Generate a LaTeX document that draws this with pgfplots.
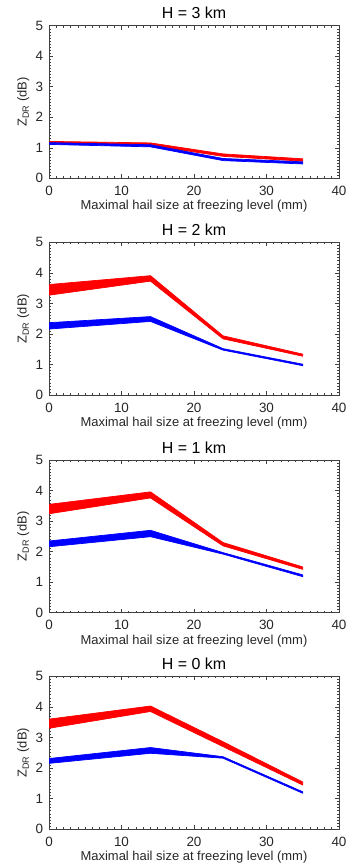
\documentclass[border=0pt]{standalone}
\usepackage{fontspec}
\setmainfont{Liberation Sans}
\usepackage{pgfplots}
\pgfplotsset{compat=1.18}
\definecolor{framec}{gray}{0.25}
\pgfplotsset{zdr/.style={
  width=290bp, height=152.6bp, scale only axis,
  xmin=0, xmax=40, ymin=0, ymax=5,
  xtick={0,10,20,30,40}, ytick={0,1,2,3,4,5},
  minor x tick num=9, minor y tick num=9,
  tick align=inside, major tick length=4bp, minor tick length=2bp,
  axis line style={framec, line width=0.6bp},
  tick style={framec, line width=0.5bp},
  /pgf/number format/assume math mode=true,
  ticklabel style={font=\fontsize{13.5}{13.5}\selectfont, text=black!85},
  xticklabel style={anchor=base, inner sep=0pt, yshift=-17.2bp},
  yticklabel style={anchor=east, inner sep=0pt, xshift=-5.7bp},
  xlabel={Maximal hail size at freezing level (mm)},
  ylabel={Z\textsubscript{DR} (dB)},
  every axis x label/.style={at={(axis description cs:0.5,-0.2075)}, anchor=base, inner sep=0pt, font=\fontsize{13}{13}\selectfont, text=black!85},
  every axis y label/.style={at={(axis description cs:-0.077,0.5)}, rotate=90, anchor=base, inner sep=0pt, font=\fontsize{13}{13}\selectfont, text=black!85},
  every axis title/.style={at={(axis description cs:0.5,1.044)}, anchor=base, inner sep=0pt, font=\fontsize{16}{16}\selectfont},
  redband/.style={fill=red, draw=red, line width=0.7bp, line join=round},
  blueband/.style={fill=blue, draw=blue, line width=0.7bp, line join=round},
}}
\begin{document}
\begin{tikzpicture}
\path[use as bounding box] (0,0) rectangle (346bp,-863bp);

% H = 3 km
\begin{axis}[zdr, at={(49bp,-178.3bp)}, anchor=south west, title={H = 3 km}]
\addplot[redband] coordinates {(0,1.21)(14,1.16)(24,0.80)(35,0.64)(35,0.56)(24,0.72)(14,1.08)(0,1.13)} -- cycle;
\addplot[blueband] coordinates {(0,1.17)(14,1.10)(24,0.65)(35,0.54)(35,0.47)(24,0.58)(14,1.03)(0,1.11)} -- cycle;
\end{axis}

% H = 2 km
\begin{axis}[zdr, at={(49bp,-395bp)}, anchor=south west, title={H = 2 km}]
\addplot[redband] coordinates {(0,3.62)(14,3.91)(24,1.94)(35,1.34)(35,1.27)(24,1.84)(14,3.73)(0,3.27)} -- cycle;
\addplot[blueband] coordinates {(0,2.37)(14,2.57)(24,1.52)(35,1.01)(35,0.96)(24,1.47)(14,2.41)(0,2.16)} -- cycle;
\end{axis}

% H = 1 km
\begin{axis}[zdr, at={(49bp,-612.7bp)}, anchor=south west, title={H = 1 km}]
\addplot[redband] coordinates {(0,3.55)(14,3.96)(24,2.30)(35,1.50)(35,1.42)(24,2.19)(14,3.76)(0,3.24)} -- cycle;
\addplot[blueband] coordinates {(0,2.35)(14,2.70)(24,1.97)(35,1.24)(35,1.18)(24,1.92)(14,2.49)(0,2.16)} -- cycle;
\end{axis}

% H = 0 km
\begin{axis}[zdr, at={(49bp,-829bp)}, anchor=south west, title={H = 0 km}]
\addplot[redband] coordinates {(0,3.60)(14,4.03)(24,2.86)(35,1.54)(35,1.44)(24,2.70)(14,3.85)(0,3.30)} -- cycle;
\addplot[blueband] coordinates {(0,2.31)(14,2.67)(24,2.37)(35,1.22)(35,1.17)(24,2.32)(14,2.48)(0,2.15)} -- cycle;
\end{axis}
\end{tikzpicture}
\end{document}
